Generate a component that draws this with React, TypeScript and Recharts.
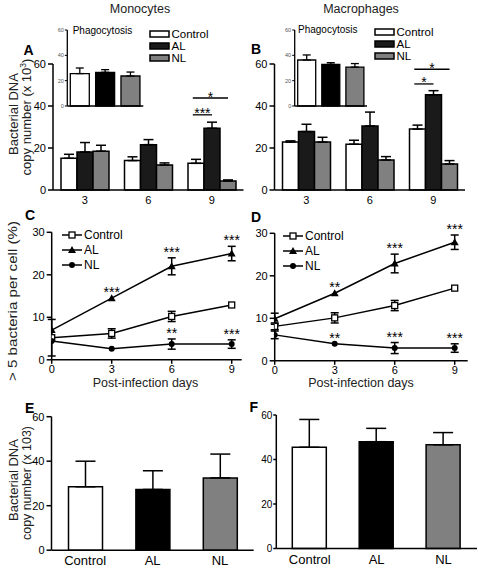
import React from 'react';
import { BarChart, Bar, XAxis, YAxis, ErrorBar, LabelList, Legend, LineChart, Line, Cell } from 'recharts';

const FONT = '"Liberation Sans", Arial, Helvetica, sans-serif';

// ---------- shared ----------
const groups = ['3', '6', '9'];
const seriesNames = ['Control', 'AL', 'NL'];
const seriesColors = ['#ffffff', '#1a1a1a', '#808080'];

// ---------- Panel A (Monocytes, bacterial DNA) ----------
const aControl = [15.1, 14.0, 12.7];
const aControlErr = [1.9, 1.8, 1.9];
const aAL = [18.1, 21.6, 29.4];
const aALErr = [4.5, 2.4, 2.9];
const aNL = [18.5, 11.9, 4.3];
const aNLErr = [2.8, 1.0, 0.5];
const aPhago = [25.6, 26.6, 23.7];
const aPhagoErr = [4.4, 2.1, 3.1];
const aSig = [
  { series: 'al', group: '9', level: 35.8, text: '***' },
  { series: 'nl', group: '9', level: 43.8, text: '*' },
];

// ---------- Panel B (Macrophages, bacterial DNA) ----------
const bControl = [22.8, 21.8, 29.0];
const bControlErr = [0.6, 1.9, 1.9];
const bAL = [27.8, 30.5, 45.3];
const bALErr = [3.5, 6.6, 2.0];
const bNL = [22.8, 14.3, 12.4];
const bNLErr = [2.3, 1.6, 1.6];
const bPhago = [36.3, 32.9, 30.7];
const bPhagoErr = [4.0, 1.3, 2.8];
const bSig = [
  { series: 'al', group: '9', level: 50.5, text: '*' },
  { series: 'nl', group: '9', level: 57.5, text: '*' },
];

// ---------- Panels C / D (> 5 bacteria per cell, %) ----------
const days = [0, 3, 6, 9];
const cControl = [5.2, 6.2, 10.2, 12.9];
const cControlErr = [4.3, 1.1, 1.2, 0];
const cAL = [7.0, 14.5, 22.0, 25.0];
const cALErr = [0, 0, 2.0, 1.7];
const cNL = [4.4, 2.6, 3.7, 3.7];
const cNLErr = [0, 0, 1.2, 1.0];
const cALSig = ['', '***', '***', '***'];
const cNLSig = ['', '', '**', '***'];

const dControl = [8.1, 10.1, 13.0, 17.1];
const dControlErr = [0.8, 1.2, 1.2, 0];
const dAL = [9.9, 15.9, 22.9, 27.9];
const dALErr = [1.3, 0, 2.2, 1.7];
const dNL = [6.1, 4.0, 3.0, 3.0];
const dNLErr = [0.9, 0, 1.3, 1.0];
const dALSig = ['', '**', '***', '***'];
const dNLSig = ['', '**', '***', '***'];

// ---------- Panels E / F ----------
const eValues = [28.5, 27.3, 32.5];
const eErr = [11.5, 8.4, 10.7];
const fValues = [45.5, 48.0, 46.6];
const fErr = [12.5, 6.0, 5.5];

// ---------- builders ----------
const buildGroups = (c: number[], ce: number[], a: number[], ae: number[], n: number[], ne: number[]) =>
  groups.map((g, i) => ({
    group: g,
    control: c[i], controlErr: [0, ce[i]],
    al: a[i], alErr: [0, ae[i]],
    nl: n[i], nlErr: [0, ne[i]],
  }));

const buildSingle = (v: number[], e: number[]) =>
  seriesNames.map((name, i) => ({ name, value: v[i], err: [0, e[i]] }));

const buildLines = (c: number[], ce: number[], a: number[], ae: number[], n: number[], ne: number[], as: string[], ns: string[]) =>
  days.map((d, i) => ({
    day: d,
    control: c[i], controlErr: ce[i],
    al: a[i], alErr: ae[i], alTop: a[i] + ae[i], alSig: as[i],
    nl: n[i], nlErr: ne[i], nlTop: n[i] + ne[i], nlSig: ns[i],
  }));

const aData = buildGroups(aControl, aControlErr, aAL, aALErr, aNL, aNLErr);
const bData = buildGroups(bControl, bControlErr, bAL, bALErr, bNL, bNLErr);
const aPhagoData = buildSingle(aPhago, aPhagoErr);
const bPhagoData = buildSingle(bPhago, bPhagoErr);
const eData = buildSingle(eValues, eErr);
const fData = buildSingle(fValues, fErr);
const cData = buildLines(cControl, cControlErr, cAL, cALErr, cNL, cNLErr, cALSig, cNLSig);
const dData = buildLines(dControl, dControlErr, dAL, dALErr, dNL, dNLErr, dALSig, dNLSig);

const axisLine = { stroke: '#000', strokeWidth: 1.5 };
const tickLine = { stroke: '#000', strokeWidth: 1.5 };
const tickStyle = { fontSize: 11, fill: '#000', fontFamily: FONT };

// significance bracket drawn from the bar geometry
const makeSig = (sigs: any[], series: string, steps: number) => (props: any) => {
  const vb = props.viewBox || {};
  const x = props.x ?? vb.x;
  const y = props.y ?? vb.y;
  const width = props.width ?? vb.width;
  const height = props.height ?? vb.height;
  const idx = props.index;
  const s = sigs.find((q) => q.series === series && q.group === groups[idx]);
  if (!s || !height) return null;
  const val = Number(props.value);
  const h = Math.abs(height);
  const base = Math.min(y, y + height) + h;
  const ppu = h / val;
  const ly = base - s.level * ppu;
  const x1 = x - steps * width + 0.3 * width;
  const x2 = x + width / 2;
  return (
    <g>
      <line x1={x1} x2={x2} y1={ly} y2={ly} stroke="#000" strokeWidth={1.3} />
      <text x={(x1 + x2) / 2} y={ly + 3.5} textAnchor="middle" fontSize={14} fontFamily={FONT} fill="#000">{s.text}</text>
    </g>
  );
};

const starContent = (props: any) => {
  const vb = props.viewBox || {};
  const x = props.x ?? vb.x;
  const y = props.y ?? vb.y;
  if (!props.value) return null;
  return (
    <text x={x} y={y - 1} textAnchor="middle" fontSize={14} fontFamily={FONT} fill="#000">{props.value}</text>
  );
};

const BarLegend = () => (
  <svg width={80} height={40} style={{ display: 'block' }}>
    {seriesNames.map((n, i) => (
      <g key={n}>
        <rect x={2} y={4 + i * 12} width={19} height={6} fill={seriesColors[i]} stroke="#000" strokeWidth={1.5} />
        <text x={23.5} y={11 + i * 12} fontSize={11.5} fontFamily={FONT} fill="#000">{n}</text>
      </g>
    ))}
  </svg>
);

const Square = ({ cx, cy }: any) => (
  <rect x={cx - 3} y={cy - 3} width={6} height={6} fill="#fff" stroke="#000" strokeWidth={1.3} />
);
const Tri = ({ cx, cy }: any) => (
  <path d={`M${cx},${cy - 4} L${cx + 4},${cy + 3} L${cx - 4},${cy + 3} Z`} fill="#000" />
);
const Circ = ({ cx, cy }: any) => <circle cx={cx} cy={cy} r={3} fill="#000" />;
const markers = [Square, Tri, Circ];

const LineLegend = () => (
  <svg width={80} height={46} style={{ display: 'block' }}>
    {seriesNames.map((n, i) => {
      const M = markers[i];
      const yy = 7 + i * 15;
      return (
        <g key={n}>
          <line x1={2} x2={22} y1={yy} y2={yy} stroke="#000" strokeWidth={1.5} />
          <M cx={12} cy={yy} />
          <text x={24} y={yy + 4.3} fontSize={12} fontFamily={FONT} fill="#000">{n}</text>
        </g>
      );
    })}
  </svg>
);

function MainBars({ left, data, sigs, yWidth, width, legendLeft, legendTop }: any) {
  return (
    <div style={{ position: 'absolute', left, top: 0 }}>
      <BarChart width={width} height={210} data={data} margin={{ top: 64, right: width - yWidth - 190.5, bottom: 0, left: 0 }} barGap={0} barSize={16}>
        <XAxis dataKey="group" axisLine={axisLine} tickLine={false} tick={tickStyle} height={20} tickSize={6} tickMargin={0} interval={0} />
        <YAxis domain={[0, 60]} ticks={[0, 20, 40, 60]} width={yWidth} axisLine={axisLine} tickLine={tickLine} tickSize={5} tickMargin={2} tick={tickStyle} />
        <Legend layout="vertical" align="center" verticalAlign="middle" wrapperStyle={{ left: legendLeft, top: legendTop, width: 80, height: 40 }} content={() => <BarLegend />} />
        <Bar dataKey="control" name="Control" fill={seriesColors[0]} stroke="#000" strokeWidth={1.5} isAnimationActive={false}>
          <ErrorBar dataKey="controlErr" width={5} stroke="#000" strokeWidth={1.5} />
        </Bar>
        <Bar dataKey="al" name="AL" fill={seriesColors[1]} stroke="#000" strokeWidth={1.5} isAnimationActive={false}>
          <ErrorBar dataKey="alErr" width={5} stroke="#000" strokeWidth={1.5} />
          <LabelList dataKey="al" content={makeSig(sigs, 'al', 1)} />
        </Bar>
        <Bar dataKey="nl" name="NL" fill={seriesColors[2]} stroke="#000" strokeWidth={1.5} isAnimationActive={false}>
          <ErrorBar dataKey="nlErr" width={5} stroke="#000" strokeWidth={1.5} />
          <LabelList dataKey="nl" content={makeSig(sigs, 'nl', 2)} />
        </Bar>
      </BarChart>
    </div>
  );
}

function Inset({ left, data, axisX, plotRight, barSize }: any) {
  const w = 150;
  return (
    <div style={{ position: 'absolute', left, top: 0 }}>
      <BarChart width={w} height={110} data={data} margin={{ top: 30, right: w - plotRight, bottom: 0, left: 0 }} barSize={barSize}>
        <XAxis dataKey="name" tick={false} tickLine={false} height={4} axisLine={{ stroke: '#000', strokeWidth: 1.3 }} />
        <YAxis domain={[0, 60]} ticks={[0, 20, 40, 60]} width={axisX} axisLine={{ stroke: '#000', strokeWidth: 1.3 }} tickLine={{ stroke: '#000', strokeWidth: 1 }} tickSize={2.5} tickMargin={1} tick={{ fontSize: 5.5, fill: '#555', fontFamily: FONT }} />
        <Bar dataKey="value" stroke="#000" strokeWidth={1.3} isAnimationActive={false}>
          {data.map((d: any, i: number) => <Cell key={d.name} fill={i === 1 ? '#000' : seriesColors[i]} />)}
          <ErrorBar dataKey="err" width={4} stroke="#000" strokeWidth={1.3} />
        </Bar>
      </BarChart>
    </div>
  );
}

function SingleBars({ left, data, yWidth, width, marginTop, plotRight, yTickSize, yTickMargin, yFont }: any) {
  return (
    <div style={{ position: 'absolute', left, top: 400 }}>
      <BarChart width={width} height={168} data={data} margin={{ top: marginTop, right: width - plotRight, bottom: 0, left: 0 }} barSize={34}>
        <XAxis dataKey="name" axisLine={axisLine} tickLine={false} tick={{ fontSize: 13, fill: '#000', fontFamily: FONT }} height={168 - marginTop - 133.5} tickSize={6} tickMargin={0} interval={0} />
        <YAxis domain={[0, 60]} ticks={[0, 20, 40, 60]} width={yWidth} axisLine={axisLine} tickLine={tickLine} tickSize={yTickSize} tickMargin={yTickMargin} tick={{ ...tickStyle, fontSize: yFont }} />
        <Bar dataKey="value" stroke="#000" strokeWidth={1.5} isAnimationActive={false}>
          {data.map((d: any, i: number) => <Cell key={d.name} fill={i === 1 ? '#000' : seriesColors[i]} />)}
          <ErrorBar dataKey="err" width={10} stroke="#000" strokeWidth={1.5} />
        </Bar>
      </BarChart>
    </div>
  );
}

function Lines({ left, data, yWidth, width, marginTop, xMax, legendLeft, legendTop }: any) {
  const plotW = xMax * 20;
  return (
    <div style={{ position: 'absolute', left, top: 200 }}>
      <LineChart width={width} height={200} data={data} margin={{ top: marginTop, right: width - yWidth - plotW, bottom: 200 - marginTop - 127.5 - 18, left: 0 }}>
        <XAxis type="number" dataKey="day" domain={[0, xMax]} ticks={[0, 3, 6, 9]} allowDataOverflow axisLine={axisLine} tickLine={tickLine} tickSize={4} tickMargin={1} tick={tickStyle} height={18} />
        <YAxis domain={[0, 30]} ticks={[0, 10, 20, 30]} width={yWidth} axisLine={axisLine} tickLine={tickLine} tickSize={5} tickMargin={2} tick={tickStyle} />
        <Legend layout="vertical" align="center" verticalAlign="middle" wrapperStyle={{ left: legendLeft, top: legendTop, width: 80, height: 46 }} content={() => <LineLegend />} />
        <Line dataKey="control" stroke="#000" strokeWidth={1.5} isAnimationActive={false} dot={(p: any) => <Square key={`s${p.index}`} cx={p.cx} cy={p.cy} />} activeDot={false}>
          <ErrorBar dataKey="controlErr" width={4} stroke="#000" strokeWidth={1.5} />
        </Line>
        <Line dataKey="al" stroke="#000" strokeWidth={1.5} isAnimationActive={false} dot={(p: any) => <Tri key={`t${p.index}`} cx={p.cx} cy={p.cy} />} activeDot={false}>
          <ErrorBar dataKey="alErr" width={4} stroke="#000" strokeWidth={1.5} />
        </Line>
        <Line dataKey="nl" stroke="#000" strokeWidth={1.5} isAnimationActive={false} dot={(p: any) => <Circ key={`c${p.index}`} cx={p.cx} cy={p.cy} />} activeDot={false}>
          <ErrorBar dataKey="nlErr" width={4} stroke="#000" strokeWidth={1.5} />
        </Line>
        <Line dataKey="alTop" stroke="none" dot={false} activeDot={false} isAnimationActive={false} legendType="none">
          <LabelList dataKey="alSig" content={starContent} />
        </Line>
        <Line dataKey="nlTop" stroke="none" dot={false} activeDot={false} isAnimationActive={false} legendType="none">
          <LabelList dataKey="nlSig" content={starContent} />
        </Line>
      </LineChart>
    </div>
  );
}

const txt = { fontFamily: FONT, fill: '#000' } as const;
const lab = { fontFamily: FONT, fill: '#222' } as const;

export default function App() {
  return (
    <div style={{ position: 'absolute', left: 0, top: 0, width: 478, height: 568, background: '#fff', fontFamily: FONT, overflow: 'hidden' }}>
      <MainBars left={0} data={aData} sigs={aSig} yWidth={53} width={250} legendLeft={148} legendTop={27} />
      <MainBars left={222} data={bData} sigs={bSig} yWidth={52.5} width={256} legendLeft={150.5} legendTop={25} />
      <Inset left={0} data={aPhagoData} axisX={67.3} plotRight={143.3} barSize={19} />
      <Inset left={222} data={bPhagoData} axisX={72.7} plotRight={145} barSize={18} />
      <Lines left={0} data={cData} yWidth={51.7} width={250} marginTop={32.3} xMax={9.5} legendLeft={60} legendTop={28} />
      <Lines left={223} data={dData} yWidth={51.7} width={255} marginTop={33.3} xMax={9.65} legendLeft={58} legendTop={29} />
      <SingleBars left={0} data={eData} yWidth={51.5} width={260} marginTop={16.7} plotRight={253.7} yTickSize={5} yTickMargin={2} yFont={11} />
      <SingleBars left={222} data={fData} yWidth={54.3} width={256} marginTop={15} plotRight={255} yTickSize={3} yTickMargin={1} yFont={10} />

      <svg width={478} height={568} style={{ position: 'absolute', left: 0, top: 0, pointerEvents: 'none' }}>
        <text x={140} y={13} textAnchor="middle" fontSize={12.5} {...lab}>Monocytes</text>
        <text x={361} y={13} textAnchor="middle" fontSize={12.5} {...lab}>Macrophages</text>

        <text x={23.5} y={55} fontSize={14} fontWeight="bold" {...txt}>A</text>
        <text x={251} y={53.5} fontSize={14} fontWeight="bold" {...txt}>B</text>
        <text x={25} y={220} fontSize={14} fontWeight="bold" {...txt}>C</text>
        <text x={251} y={221.7} fontSize={14} fontWeight="bold" {...txt}>D</text>
        <text x={25} y={413} fontSize={14} fontWeight="bold" {...txt}>E</text>
        <text x={249.5} y={411.5} fontSize={14} fontWeight="bold" {...txt}>F</text>

        <text x={72.7} y={33.5} fontSize={10} {...txt}>Phagocytosis</text>
        <text x={298} y={32.5} fontSize={10} {...txt}>Phagocytosis</text>

        <g transform="translate(18,114) rotate(-90)">
          <text x={0} y={0} textAnchor="middle" fontSize={13} textLength={82} lengthAdjust="spacingAndGlyphs" {...lab}>Bacterial DNA</text>
        </g>
        <g transform="translate(30.5,117) rotate(-90)">
          <text x={0} y={0} textAnchor="middle" fontSize={13} {...lab}>copy number (x 10<tspan fontSize={8.5} dy={-4.5}>3</tspan><tspan dy={4.5}>)</tspan></text>
        </g>

        <g transform="translate(17,301) rotate(-90)">
          <text x={0} y={0} textAnchor="middle" fontSize={13} textLength={160} lengthAdjust="spacingAndGlyphs" {...lab}>&gt; 5 bacteria per cell (%)</text>
        </g>
        <text x={145.5} y={387} textAnchor="middle" fontSize={12.5} {...lab}>Post-infection days</text>
        <text x={361} y={387} textAnchor="middle" fontSize={12.5} {...lab}>Post-infection days</text>

        <g transform="translate(18,480) rotate(-90)">
          <text x={0} y={0} textAnchor="middle" fontSize={13} textLength={82} lengthAdjust="spacingAndGlyphs" {...lab}>Bacterial DNA</text>
        </g>
        <g transform="translate(30.5,483) rotate(-90)">
          <text x={0} y={0} textAnchor="middle" fontSize={13} textLength={114} lengthAdjust="spacingAndGlyphs" {...lab}>copy number (x 103)</text>
        </g>
      </svg>
    </div>
  );
}
